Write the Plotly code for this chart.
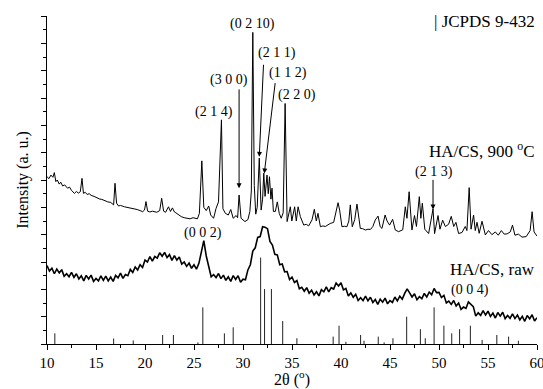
import plotly.graph_objects as go

# ---------------- data ----------------
# HA/CS raw : intensity sampled every 0.25 deg from 10 to 60 deg
raw_start = 10.0
raw_step = 0.25
raw_y = [
    2.87, 2.67, 2.77, 2.57, 2.74, 2.60, 2.72, 2.48, 2.57, 2.46, 2.62, 2.44,
    2.57, 2.38, 2.50, 2.31, 2.51, 2.38, 2.52, 2.29, 2.40, 2.31, 2.49, 2.33,
    2.48, 2.31, 2.45, 2.29, 2.51, 2.42, 2.59, 2.40, 2.54, 2.50, 2.73, 2.62,
    2.82, 2.71, 2.90, 2.80, 3.07, 3.00, 3.20, 3.03, 3.20, 3.14, 3.34, 3.21,
    3.35, 3.16, 3.27, 3.06, 3.23, 3.07, 3.18, 2.92, 3.00, 2.84, 2.96, 2.77,
    2.90, 2.74, 2.95, 3.40, 3.78, 3.22, 2.77, 2.46, 2.54, 2.43, 2.58, 2.39,
    2.52, 2.33, 2.46, 2.29, 2.50, 2.36, 2.50, 2.26, 2.37, 2.35, 2.71, 2.90,
    3.40, 3.52, 3.90, 3.93, 4.29, 4.27, 4.22, 3.75, 3.62, 3.28, 3.26, 2.90,
    2.93, 2.64, 2.65, 2.36, 2.45, 2.25, 2.32, 2.02, 2.07, 1.93, 2.06, 1.86,
    1.97, 1.79, 1.91, 1.76, 1.99, 1.91, 2.09, 1.91, 2.06, 2.01, 2.23, 2.12,
    2.24, 1.98, 2.03, 1.76, 1.87, 1.71, 1.82, 1.59, 1.69, 1.59, 1.75, 1.58,
    1.71, 1.52, 1.63, 1.45, 1.64, 1.53, 1.68, 1.47, 1.59, 1.52, 1.72, 1.58,
    1.75, 1.64, 1.85, 2.02, 1.87, 1.72, 1.84, 1.62, 1.73, 1.66, 1.85, 1.72,
    1.90, 1.80, 2.03, 1.88, 1.89, 1.70, 1.78, 1.50, 1.57, 1.45, 1.59, 1.39,
    1.50, 1.27, 1.35, 1.30, 1.54, 1.47, 1.37, 1.02, 1.14, 1.05, 1.22, 1.06,
    1.20, 1.01, 1.13, 0.95, 1.15, 1.02, 1.16, 0.93, 1.04, 0.94, 1.10, 0.93,
    1.06, 0.88, 1.01, 0.83, 1.04, 0.92, 1.07, 0.84, 0.96,
]
raw_x = [raw_start + raw_step * i for i in range(len(raw_y))]

# HA/CS 900 C : (2theta, intensity)
h900_x = [
    10.0, 10.2, 10.4, 10.6, 10.75, 10.9, 11.05, 11.25, 11.4, 11.6, 11.8, 12.1,
    12.3, 12.5, 12.8, 13.0, 13.2, 13.4, 13.57, 13.72, 13.9, 14.1, 14.3, 14.5,
    14.8, 15.0, 15.2, 15.4, 15.6, 15.85, 16.0, 16.2, 16.5, 16.7, 16.8, 16.94,
    17.1, 17.3, 17.5, 17.9, 18.2, 18.5, 18.9, 19.2, 19.5, 19.75, 19.95, 20.1,
    20.27, 20.5, 20.75, 20.95, 21.2, 21.5, 21.7, 21.9, 22.1, 22.4, 22.6, 22.8,
    23.0, 23.15, 23.4, 23.7, 24.0, 24.3, 24.6, 24.9, 25.1, 25.35, 25.55, 25.8,
    26.0, 26.25, 26.5, 26.7, 27.0, 27.25, 27.5, 27.8, 27.95, 28.2, 28.5, 28.75,
    29.0, 29.3, 29.45, 29.6, 29.8, 30.2, 30.5, 30.7, 30.85, 31.0, 31.15, 31.3,
    31.45, 31.66, 31.85, 32.0, 32.12, 32.25, 32.45, 32.58, 32.7, 32.85, 32.96, 33.1,
    33.3, 33.5, 33.7, 33.9, 34.1, 34.3, 34.5, 34.83, 34.98, 35.27, 35.44, 35.62,
    35.85, 36.2, 36.45, 36.7, 37.04, 37.28, 37.48, 37.65, 37.9, 38.15, 38.4, 38.65,
    38.9, 39.25, 39.5, 39.7, 39.86, 40.1, 40.35, 40.6, 40.8, 40.95, 41.15, 41.4,
    41.63, 41.97, 42.2, 42.5, 42.75, 43.0, 43.25, 43.5, 43.78, 44.0, 44.18, 44.5,
    44.7, 44.96, 45.27, 45.54, 45.88, 46.1, 46.3, 46.56, 46.73, 46.95, 47.24, 47.5,
    47.7, 47.99, 48.15, 48.3, 48.55, 48.94, 49.2, 49.39, 49.55, 49.72, 49.9, 50.1,
    50.37, 50.65, 50.98, 51.25, 51.5, 51.73, 52.0, 52.35, 52.68, 52.85, 53.08, 53.27,
    53.53, 53.7, 53.88, 54.1, 54.39, 54.73, 55.05, 55.4, 55.75, 56.05, 56.36, 56.65,
    56.95, 57.27, 57.5, 57.75, 58.1, 58.47, 58.9, 59.3, 59.5, 59.7, 60.0,
]
h900_y = [
    6.12, 6.05, 6.18, 6.10, 6.27, 5.94, 6.00, 5.85, 5.92, 5.78, 5.82, 5.70,
    5.74, 5.62, 5.51, 5.58, 5.52, 5.57, 6.06, 5.51, 5.55, 5.47, 5.50, 5.44,
    5.40, 5.36, 5.33, 5.30, 5.29, 5.24, 5.22, 5.20, 5.18, 5.12, 5.09, 5.88,
    5.15, 5.05, 5.07, 5.02, 5.00, 4.97, 4.94, 4.92, 4.88, 4.84, 4.90, 5.21,
    4.86, 4.83, 4.86, 4.84, 4.82, 4.88, 5.33, 4.86, 4.82, 5.02, 4.85, 4.98,
    4.83, 4.80, 4.72, 4.66, 4.62, 4.60, 4.58, 4.62, 4.60, 4.58, 4.78, 6.70,
    5.00, 4.88, 5.05, 4.72, 4.60, 4.96, 5.20, 8.20, 4.95, 4.78, 4.72, 4.92,
    4.60, 4.70, 4.62, 5.45, 4.60, 4.48, 4.55, 4.85, 5.60, 11.40, 5.80, 4.75,
    5.00, 6.80, 4.90, 5.30, 6.25, 5.40, 6.18, 5.50, 6.12, 5.30, 5.70, 4.85,
    4.85, 5.20, 4.78, 4.60, 4.80, 8.80, 4.48, 5.02, 4.50, 5.02, 4.50, 5.02,
    4.66, 4.35, 4.38, 4.32, 4.54, 4.93, 4.50, 4.78, 4.29, 4.32, 4.30, 4.36,
    4.41, 4.45, 4.84, 5.17, 4.90, 4.29, 4.31, 4.29, 4.50, 5.09, 4.29, 4.55,
    5.12, 4.23, 4.22, 4.17, 4.20, 4.19, 4.30, 4.54, 4.68, 4.29, 4.23, 4.72,
    4.50, 4.35, 4.56, 4.17, 4.11, 4.15, 4.18, 5.02, 4.60, 5.57, 4.17, 4.70,
    4.30, 5.39, 4.60, 5.15, 4.20, 4.04, 4.55, 4.94, 4.04, 4.35, 4.70, 4.20,
    4.53, 4.30, 4.38, 4.67, 4.30, 4.45, 4.04, 4.08, 4.30, 4.15, 5.72, 4.20,
    4.72, 4.15, 4.45, 4.05, 4.49, 3.99, 4.15, 4.00, 4.10, 3.98, 4.15, 4.02,
    4.03, 4.10, 4.35, 3.98, 4.02, 3.91, 3.93, 4.15, 4.84, 4.10, 3.95,
]

# JCPDS 9-432 reference lines
jcpds_pos = [10.8, 16.8, 18.8, 21.8, 22.9, 25.4, 25.9, 28.1, 29.0, 31.8, 32.2, 32.9,
             34.05, 35.5, 39.2, 39.8, 40.5, 42.0, 42.35, 43.8, 44.4, 45.3, 46.7,
             48.1, 48.6, 49.5, 50.5, 51.3, 52.1, 53.2, 54.4, 55.9, 57.1, 58.1]
jcpds_int = [0.39, 0.20, 0.13, 0.33, 0.33, 0.06, 1.34, 0.39, 0.61, 3.16, 2.01, 2.01,
             0.84, 0.21, 0.27, 0.67, 0.08, 0.33, 0.12, 0.27, 0.06, 0.21, 1.00,
             0.54, 0.21, 1.34, 0.67, 0.39, 0.54, 0.67, 0.15, 0.33, 0.27, 0.12]

x_ticks = [10, 15, 20, 25, 30, 35, 40, 45, 50, 55, 60]

# ---------------- figure ----------------
FONT = "Liberation Serif, Times New Roman, serif"

stick_x, stick_y = [], []
for p, h in zip(jcpds_pos, jcpds_int):
    stick_x += [p, p, None]
    stick_y += [0, h, None]

fig = go.Figure()
fig.add_trace(go.Scatter(x=stick_x, y=stick_y, mode="lines",
                         line=dict(color="#222222", width=1), hoverinfo="skip"))
fig.add_trace(go.Scatter(x=raw_x, y=raw_y, mode="lines",
                         line=dict(color="black", width=1.6)))
fig.add_trace(go.Scatter(x=h900_x, y=h900_y, mode="lines",
                         line=dict(color="black", width=1)))

# labels: (text, x, y)
text_labels = [
    ("(0 2 10)", 31.0, 11.72),
    ("(2 1 1)", 33.45, 10.63),
    ("(1 1 2)", 34.6, 9.9),
    ("(2 2 0)", 35.55, 9.12),
    ("(3 0 0)", 28.55, 9.66),
    ("(2 1 4)", 27.0, 8.5),
    ("(2 1 3)", 49.45, 6.3),
    ("(0 0 2)", 25.9, 4.05),
    ("(0 0 4)", 53.2, 1.98),
]
for t, x, y in text_labels:
    fig.add_annotation(x=x, y=y, text=t, showarrow=False,
                       font=dict(family=FONT, size=14, color="black"),
                       xanchor="center", yanchor="middle")

# arrows: (tail x, tail y, head x, head y)
arrows = [
    (29.6, 9.37, 29.6, 5.70),
    (32.1, 10.27, 31.66, 6.85),
    (33.3, 9.6, 32.17, 6.24),
    (49.39, 6.06, 49.39, 4.92),
]
for ax_, ay_, x, y in arrows:
    fig.add_annotation(x=x, y=y, ax=ax_, ay=ay_, axref="x", ayref="y",
                       xref="x", yref="y", text="", showarrow=True,
                       arrowhead=2, arrowsize=1, arrowwidth=1, arrowcolor="black")

big_labels = [
    ("| JCPDS 9-432", 11.79),
    ("HA/CS, 900 <sup>o</sup>C", 7.1),
    ("HA/CS, raw", 2.72),
]
for t, y in big_labels:
    fig.add_annotation(x=60, y=y, text=t, showarrow=False,
                       font=dict(family=FONT, size=17, color="black"),
                       xanchor="right", yanchor="middle")

fig.update_layout(
    width=543, height=389,
    margin=dict(l=47, r=6, t=16, b=45),
    paper_bgcolor="white", plot_bgcolor="white",
    showlegend=False,
    font=dict(family=FONT, size=15, color="black"),
    xaxis=dict(range=[10, 60], tickvals=x_ticks, ticktext=[str(v) for v in x_ticks],
               showline=True, linecolor="black", linewidth=1,
               ticks="outside", ticklen=5, tickwidth=1, tickcolor="black",
               minor=dict(dtick=2.5, ticks="outside", ticklen=3, tickcolor="black"),
               showgrid=False, zeroline=False, ticklabeloverflow="allow",
               automargin=False,
               tickfont=dict(family=FONT, size=15),
               title=dict(text="2θ (<sup>o</sup>)", font=dict(family=FONT, size=16),
                          standoff=2)),
    yaxis=dict(range=[0, 12], dtick=1, showticklabels=False,
               showline=True, linecolor="black", linewidth=1,
               ticks="outside", ticklen=5, tickwidth=1, tickcolor="black",
               minor=dict(dtick=0.5, ticks="outside", ticklen=3, tickcolor="black"),
               showgrid=False, zeroline=False, automargin=False,
               title=dict(text="Intensity (a. u.)", font=dict(family=FONT, size=16),
                          standoff=8)),
)

fig.write_html("out.html", config={"displayModeBar": False},
               post_script="document.body.style.margin='0px';document.body.style.padding='0px';")
